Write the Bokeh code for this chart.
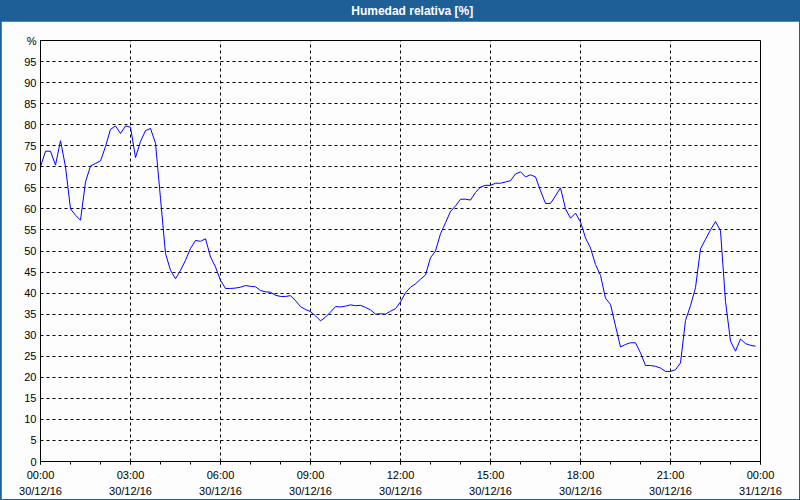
import pandas as pd
from bokeh.plotting import figure
from bokeh.layouts import column
from bokeh.models import Range1d, FixedTicker, DatetimeTickFormatter, ColumnDataSource
from bokeh.core.properties import value
from bokeh.embed import file_html
from bokeh.resources import INLINE

# ---- data -------------------------------------------------------------
title_text = "Humedad relativa [%]"
start_time = "2016-12-30 00:00"
step = "10min"
humidity = [
    70.0, 73.7, 73.7, 70.4, 76.2, 70.0,
    60.0, 58.5, 57.3, 66.4, 70.2, 70.8,
    71.4, 74.8, 78.9, 79.7, 77.9, 79.7,
    79.4, 72.2, 76.0, 78.6, 79.1, 75.6,
    62.5, 49.4, 45.4, 43.4, 45.4, 47.8,
    50.6, 52.5, 52.3, 52.9, 48.6, 46.2,
    43.0, 41.1, 41.1, 41.2, 41.4, 41.8,
    41.6, 41.5, 40.6, 40.3, 40.2, 39.5,
    39.2, 39.2, 39.4, 38.2, 36.8, 36.1,
    35.6, 34.6, 33.4, 34.3, 35.5, 36.8,
    36.7, 36.9, 37.2, 37.0, 37.1, 36.6,
    36.0, 35.0, 35.1, 35.0, 35.7, 36.3,
    37.9, 40.1, 41.4, 42.2, 43.3, 44.3,
    48.4, 50.0, 54.1, 56.7, 59.4, 60.7,
    62.3, 62.3, 62.1, 63.9, 65.2, 65.6,
    65.6, 66.1, 66.1, 66.4, 66.7, 68.3,
    68.8, 67.6, 68.1, 67.6, 64.3, 61.3,
    61.3, 63.1, 65.0, 60.0, 57.8, 59.0,
    56.9, 53.1, 50.7, 46.8, 44.2, 38.8,
    37.3, 32.2, 27.2, 27.8, 28.2, 28.2,
    25.8, 22.8, 22.8, 22.6, 22.2, 21.4,
    21.4, 21.8, 23.4, 33.5, 37.0, 41.3,
    50.5, 52.8, 55.0, 57.0, 54.8, 38.0,
    28.6, 26.2, 29.1, 28.0, 27.6, 27.4,
]
x_start = "2016-12-30 00:00"
x_end = "2016-12-31 00:00"
y_ticks = list(range(0, 101, 5))
y_overrides = {100: "%"}

times = pd.date_range(start_time, periods=len(humidity), freq=step)
src = ColumnDataSource(dict(t=times, h=humidity))

BLUE = "#1d5f96"
FONT = "Liberation Sans"

# ---- title bar --------------------------------------------------------
tb = figure(width=800, height=21, x_range=Range1d(0, 800), y_range=Range1d(0, 21),
            min_border=0, toolbar_location=None, output_backend="svg",
            background_fill_color=BLUE, border_fill_color=BLUE)
tb.axis.visible = False
tb.grid.visible = False
tb.outline_line_color = None
tb.text(x=[413], y=[10.5], text=[title_text], text_color="white",
        text_font=value(FONT), text_font_style="bold", text_font_size="12px",
        text_align="center", text_baseline="middle")

# ---- main chart -------------------------------------------------------
t0 = pd.Timestamp(x_start)
t1 = pd.Timestamp(x_end)
p = figure(width=798, height=478, x_axis_type="datetime",
           x_range=Range1d(t0, t1), y_range=Range1d(0, 100),
           toolbar_location=None, output_backend="svg",
           min_border_left=39, min_border_right=39, min_border_top=19, min_border_bottom=37,
           background_fill_color="#fcfdfc", border_fill_color="#fcfdfc",
           margin=(0, 1, 1, 1))

p.line("t", "h", source=src, line_color="#0000ff", line_width=1)

major_ms = [(t0 + pd.Timedelta(hours=h)).value / 1e6 for h in range(0, 25, 3)]
minor_ms = [(t0 + pd.Timedelta(hours=h)).value / 1e6 for h in range(0, 25)]
p.xaxis.ticker = FixedTicker(ticks=major_ms, minor_ticks=minor_ms)
fmt = "%H:%M\n%d/%m/%y"
p.xaxis.formatter = DatetimeTickFormatter(
    microseconds=fmt, milliseconds=fmt, seconds=fmt, minsec=fmt, minutes=fmt,
    hourmin=fmt, hours=fmt, days=fmt, months=fmt, years=fmt, context=None)

p.yaxis.ticker = FixedTicker(ticks=y_ticks)
p.yaxis.major_label_overrides = y_overrides

for ax in (p.xaxis[0], p.yaxis[0]):
    ax.axis_line_color = "black"
    ax.axis_line_width = 1
    ax.major_label_text_font = FONT
    ax.major_label_text_font_size = "11px"
    ax.major_label_text_color = "black"
    ax.major_tick_in = 0
    ax.minor_tick_in = 0

p.xaxis.major_tick_out = 3
p.xaxis.minor_tick_out = 3
p.xaxis.major_tick_line_color = "black"
p.xaxis.minor_tick_line_color = "black"
p.xaxis.major_label_standoff = 4
p.xaxis.major_label_text_line_height = 1.35

p.yaxis.major_tick_out = 0
p.yaxis.minor_tick_line_color = None
p.yaxis.major_label_standoff = 4

p.xgrid.ticker = FixedTicker(ticks=major_ms)
p.ygrid.ticker = FixedTicker(ticks=y_ticks[1:-1])
for g in (p.xgrid[0], p.ygrid[0]):
    g.grid_line_color = "black"
    g.grid_line_dash = "3 3"
    g.grid_line_width = 1
    g.grid_line_alpha = 1

p.outline_line_color = "black"
p.outline_line_width = 1
p.outline_line_alpha = 1

layout = column(tb, p, spacing=0, styles={"background-color": BLUE})
open("out.html", "w").write(file_html(layout, INLINE))
